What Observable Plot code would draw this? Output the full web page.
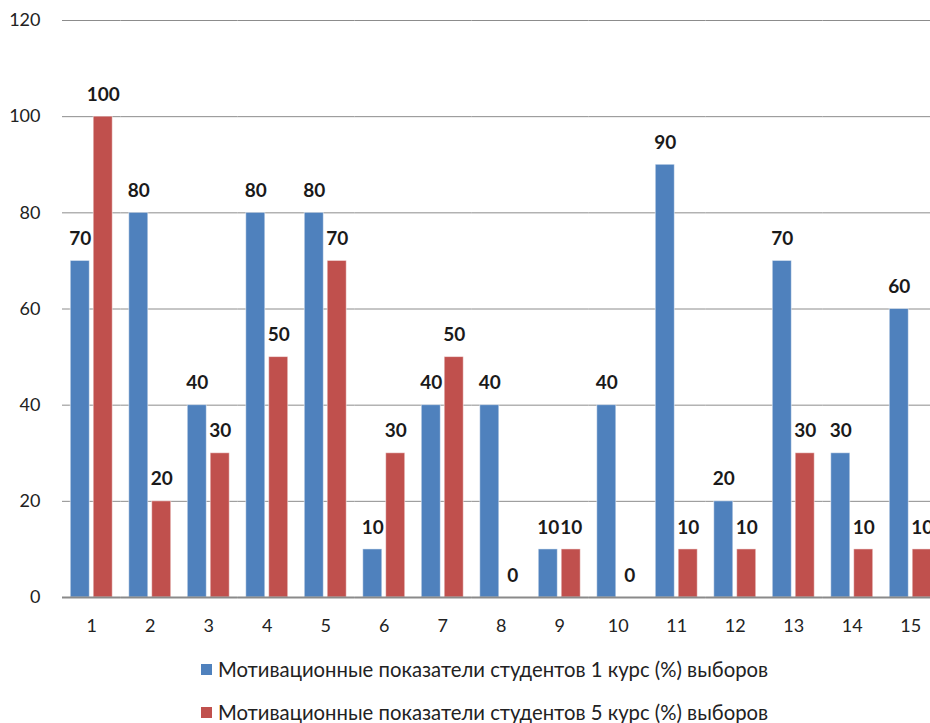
<!DOCTYPE html>
<html>
<head>
<meta charset="utf-8">
<script src="https://cdn.jsdelivr.net/npm/d3@7"></script>
<script src="https://cdn.jsdelivr.net/npm/@observablehq/plot@0.6"></script>
<style>
  html, body { margin: 0; padding: 0; background: #fff; }
  body { width: 930px; height: 723px; overflow: hidden; font-family: Lato, "Open Sans", sans-serif; }
  #chart svg { display: block; }
  .legend { position: relative; height: 78px; }
  .item { position: absolute; left: 201px; display: flex; align-items: center; font-size: 20.3px; color: #222; white-space: nowrap; }
  .sw { width: 11px; height: 11px; margin-right: 6px; display: inline-block; }
</style>
</head>
<body>
<div id="chart"></div>
<div class="legend" id="legend"></div>
<script>
const categories = ["1","2","3","4","5","6","7","8","9","10","11","12","13","14","15"];
const course1 = [70,80,40,80,80,10,40,40,10,40,90,20,70,30,60];
const course5 = [100,20,30,50,70,30,50,0,10,0,10,10,30,10,10];
const seriesNames = [
  "Мотивационные показатели студентов 1 курс (%) выборов",
  "Мотивационные показатели студентов 5 курс (%) выборов"
];
const seriesKeys = ["1", "5"];
const colors = ["#4F81BD", "#C0504D"];
const yTicks = [0,20,40,60,80,100,120];

const data = [];
categories.forEach((c, i) => {
  data.push({cat: c, series: seriesKeys[0], value: course1[i]});
  data.push({cat: c, series: seriesKeys[1], value: course5[i]});
});

const font = "Lato, 'Open Sans', sans-serif";

const chart = Plot.plot({
  width: 930,
  height: 645,
  marginLeft: 62,
  marginRight: -9.5,
  marginTop: 20,
  marginBottom: 48,
  style: {fontFamily: font, fontSize: "18px", color: "#222", background: "#fff"},
  fx: {domain: categories, padding: 0, round: false, label: null, tickSize: 0, tickPadding: 22},
  x: {domain: seriesKeys, paddingInner: 0.17, paddingOuter: 0.36, round: false, axis: null},
  y: {domain: [0, 120], label: null, axis: null},
  color: {domain: seriesKeys, range: colors},
  marks: [
    Plot.gridY(yTicks, {stroke: "#8c8c8c", strokeOpacity: 1, strokeWidth: 1}),
    Plot.axisY({ticks: yTicks, tickSize: 0, tickPadding: 22, fontSize: 18, label: null, facetAnchor: "left"}),
    Plot.barY(data, {fx: "cat", x: "series", y: "value", fill: "series", stroke: "#ffffff", strokeOpacity: 0.5, strokeWidth: 1}),
    Plot.ruleY([0], {stroke: "#8a8a8a", strokeWidth: 2}),
    Plot.text(data, {fx: "cat", x: "series", y: "value", text: d => String(d.value), dy: -22, fontWeight: "bold", fontSize: 19, fill: "#1a1a1a"})
  ]
});
document.getElementById("chart").appendChild(chart);

const legend = document.getElementById("legend");
seriesNames.forEach((name, i) => {
  const item = document.createElement("div");
  item.className = "item";
  item.style.top = (i === 0 ? 12 : 55) + "px";
  item.innerHTML = `<span class="sw" style="background:${colors[i]}"></span><span>${name}</span>`;
  legend.appendChild(item);
});
</script>
</body>
</html>
